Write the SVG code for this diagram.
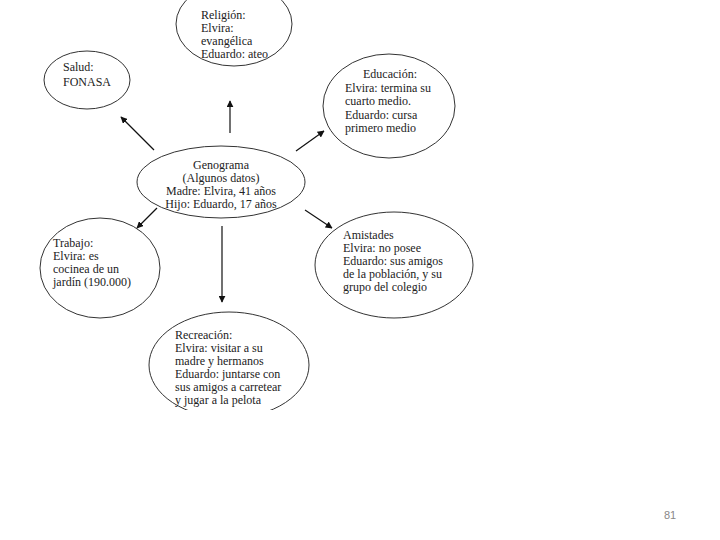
<svg xmlns="http://www.w3.org/2000/svg" width="720" height="540" viewBox="0 0 720 540">
<style>
.n{fill:none;stroke:#333;stroke-width:1}
text{font-family:"Liberation Serif","Times New Roman",serif;font-size:12px;fill:#222}
.c{text-anchor:middle}
.e{stroke:#111;stroke-width:1.2;fill:none;marker-end:url(#ah)}
.pg{font-family:"Liberation Sans",Arial,sans-serif;font-size:11px;fill:#888}
</style>
<defs>
<marker id="ah" viewBox="0 0 10 10" refX="9" refY="5" markerWidth="7" markerHeight="7" orient="auto" markerUnits="userSpaceOnUse">
<path d="M0,0 L10,5 L0,10 z" fill="#111"/>
</marker>
<clipPath id="cl"><rect x="0" y="0" width="720" height="410"/></clipPath>
</defs>
<rect width="720" height="540" fill="#fff"/>
<g clip-path="url(#cl)">
<g id="religion">
<ellipse class="n" cx="234" cy="24" rx="58" ry="42"/>
<text x="201" y="19">Religión:</text>
<text x="201" y="32">Elvira:</text>
<text x="201" y="45">evangélica</text>
<text x="201" y="58">Eduardo: ateo</text>
</g>
<g id="salud">
<ellipse class="n" cx="87" cy="80" rx="43" ry="29"/>
<text x="63" y="71">Salud:</text>
<text x="63" y="86">FONASA</text>
</g>
<g id="educacion">
<ellipse class="n" cx="389" cy="106" rx="66" ry="52"/>
<text class="c" x="390" y="78">Educación:</text>
<text x="345" y="92">Elvira: termina su</text>
<text x="345" y="105">cuarto medio.</text>
<text x="345" y="119">Eduardo: cursa</text>
<text x="345" y="132">primero medio</text>
</g>
<g id="genograma">
<ellipse class="n" cx="221" cy="182" rx="84" ry="36"/>
<text class="c" x="221" y="169">Genograma</text>
<text class="c" x="221" y="182">(Algunos datos)</text>
<text class="c" x="221" y="195">Madre: Elvira, 41 años</text>
<text class="c" x="221" y="208">Hijo: Eduardo, 17 años</text>
</g>
<g id="trabajo">
<ellipse class="n" cx="100" cy="268" rx="60" ry="50"/>
<text x="53" y="247">Trabajo:</text>
<text x="53" y="260">Elvira: es</text>
<text x="53" y="273">cocinea de un</text>
<text x="53" y="286">jardín (190.000)</text>
</g>
<g id="amistades">
<ellipse class="n" cx="394" cy="265" rx="79" ry="53"/>
<text x="343" y="239">Amistades</text>
<text x="343" y="252">Elvira: no posee</text>
<text x="343" y="265">Eduardo: sus amigos</text>
<text x="343" y="278">de la población, y su</text>
<text x="343" y="291">grupo del colegio</text>
</g>
<g id="recreacion">
<ellipse class="n" cx="229" cy="365" rx="80" ry="53"/>
<text x="175" y="339">Recreación:</text>
<text x="175" y="352">Elvira: visitar a su</text>
<text x="175" y="365">madre y hermanos</text>
<text x="175" y="378">Eduardo: juntarse con</text>
<text x="175" y="391">sus amigos a carretear</text>
<text x="175" y="404">y jugar a la pelota</text>
</g>
</g>
<g id="connectors">
<line class="e" x1="230" y1="133" x2="230" y2="101"/>
<line class="e" x1="154" y1="150" x2="121" y2="117"/>
<line class="e" x1="296" y1="151" x2="324" y2="131"/>
<line class="e" x1="157" y1="208" x2="137" y2="228"/>
<line class="e" x1="305" y1="210" x2="332" y2="228"/>
<line class="e" x1="222" y1="226" x2="222" y2="302"/>
</g>
<text class="pg" x="670" y="519" text-anchor="middle">81</text>
</svg>
